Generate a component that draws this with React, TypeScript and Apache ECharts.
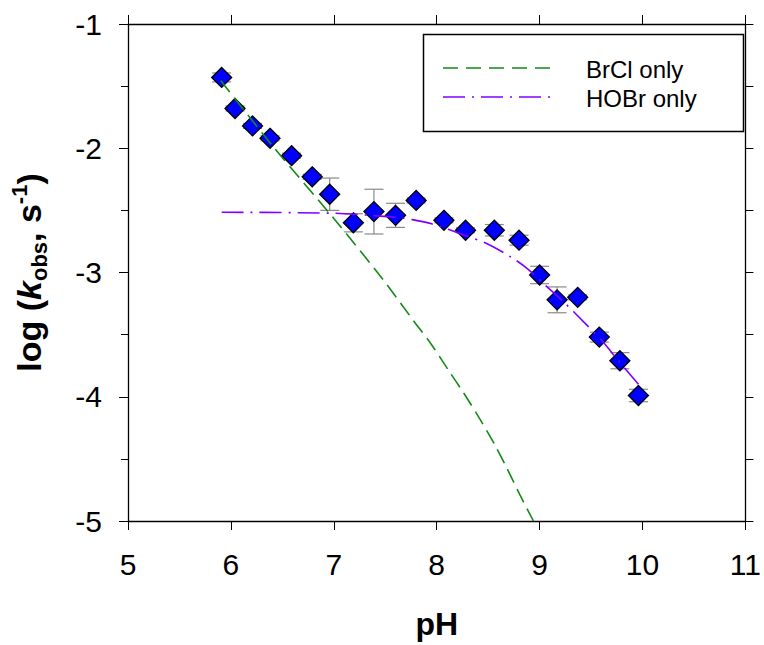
import React, { useEffect, useRef } from "react";
import * as echarts from "echarts";

// Measured data (pH, log kobs) with error half-widths
const phValues = [5.91, 6.04, 6.21, 6.38, 6.59, 6.79, 6.96, 7.19, 7.39, 7.6, 7.8, 8.07, 8.28, 8.56, 8.8, 9.0, 9.17, 9.37, 9.58, 9.78, 9.96];
const logK = [-1.43, -1.68, -1.82, -1.92, -2.06, -2.23, -2.37, -2.6, -2.51, -2.54, -2.42, -2.58, -2.66, -2.66, -2.74, -3.02, -3.22, -3.2, -3.52, -3.71, -3.99];
const logKErr = [0.036, 0.02, 0.02, 0.02, 0.02, 0.02, 0.13, 0.073, 0.18, 0.097, 0.02, 0.02, 0.02, 0.046, 0.04, 0.07, 0.104, 0.02, 0.04, 0.065, 0.05];

// Model curve "BrCl only"
const brclPH = [5.9, 6.42, 7.03, 7.47, 7.78, 7.95, 8.11, 8.27, 8.42, 8.56, 8.69, 8.81, 8.94];
const brclLogK = [-1.455, -1.996, -2.595, -3.048, -3.394, -3.581, -3.781, -3.98, -4.18, -4.38, -4.588, -4.792, -5.0];

// Model curve "HOBr only"
const hobrPH = [5.91, 7.0, 7.38, 7.6, 7.76, 7.95, 8.27, 8.49, 8.72, 8.88, 9.07, 9.23, 9.44, 9.61, 9.77, 9.96];
const hobrLogK = [-2.515, -2.523, -2.542, -2.555, -2.574, -2.608, -2.7, -2.768, -2.875, -2.968, -3.114, -3.234, -3.407, -3.554, -3.714, -3.9];

const seriesNames = ["BrCl only", "HOBr only"];
const xTicks = { min: 5, max: 11, interval: 1 };
const yTicks = { min: -5, max: -1, interval: 1 };

const FONT = 'Arial, "Liberation Sans", sans-serif';
const GREEN = "#138a13";
const PURPLE = "#8000ff";

export default function App() {
  const ref = useRef<HTMLDivElement>(null);
  useEffect(() => {
    if (!ref.current) return;
    const chart = echarts.init(ref.current, undefined, { renderer: "svg" });
    const axisLine = { show: true, lineStyle: { color: "#000", width: 1.3 } };
    const option: any = {
      animation: false,
      backgroundColor: "#fff",
      grid: { left: 122, right: 16, top: 24, bottom: 121, containLabel: false },
      xAxis: [
        {
          type: "value",
          position: "bottom",
          min: xTicks.min,
          max: xTicks.max,
          interval: xTicks.interval,
          axisLine,
          axisTick: { show: true, inside: false, length: 9, lineStyle: { color: "#000", width: 1 } },
          axisLabel: { show: true, margin: 28, fontFamily: FONT, fontSize: 30, color: "#000" },
          splitLine: { show: false },
          name: "pH",
          nameLocation: "middle",
          nameGap: 87,
          nameTextStyle: { fontFamily: FONT, fontSize: 32, fontWeight: "bold", color: "#000" },
        },
        {
          type: "value",
          position: "top",
          min: xTicks.min,
          max: xTicks.max,
          interval: xTicks.interval,
          axisLine,
          axisTick: { show: true, inside: false, length: 9, lineStyle: { color: "#000", width: 1 } },
          axisLabel: { show: false },
          splitLine: { show: false },
        },
      ],
      yAxis: [
        {
          type: "value",
          position: "left",
          min: yTicks.min,
          max: yTicks.max,
          interval: yTicks.interval,
          axisLine,
          axisTick: { show: true, inside: false, length: 9, lineStyle: { color: "#000", width: 1 } },
          minorTick: { show: true, splitNumber: 2, length: 7, lineStyle: { color: "#000", width: 1 } },
          axisLabel: { show: true, margin: 26, fontFamily: FONT, fontSize: 30, color: "#000" },
          splitLine: { show: false },
          minorSplitLine: { show: false },
          name: "{a|log (}{i|k}{sub|obs}{a|, s}{sup|-1}{a|)}",
          nameLocation: "middle",
          nameGap: 78,
          nameTextStyle: {
            fontFamily: FONT,
            fontSize: 34,
            fontWeight: "bold",
            color: "#000",
            rich: {
              a: { fontFamily: FONT, fontSize: 34, fontWeight: "bold", color: "#000", lineHeight: 42 },
              i: { fontFamily: FONT, fontSize: 34, fontWeight: "bold", fontStyle: "italic", color: "#000", lineHeight: 42 },
              sub: { fontFamily: FONT, fontSize: 22, fontWeight: "bold", color: "#000", verticalAlign: "bottom", lineHeight: 22 },
              sup: { fontFamily: FONT, fontSize: 22, fontWeight: "bold", color: "#000", verticalAlign: "top", lineHeight: 22 },
            },
          },
        },
        {
          type: "value",
          position: "right",
          min: yTicks.min,
          max: yTicks.max,
          interval: 0.5,
          axisLine,
          axisTick: { show: true, inside: false, length: 8, lineStyle: { color: "#000", width: 1 } },
          axisLabel: { show: false },
          splitLine: { show: false },
        },
      ],
      series: [
        {
          type: "custom",
          name: "error",
          xAxisIndex: 0,
          yAxisIndex: 0,
          z: 1,
          data: phValues.map((x, i) => [x, logK[i], logKErr[i]]),
          encode: { x: 0, y: 1 },
          renderItem: (_params: any, api: any) => {
            const x = api.value(0);
            const y = api.value(1);
            const e = api.value(2);
            const top = api.coord([x, y + e]);
            const bot = api.coord([x, y - e]);
            const w = 9.5;
            const st = { stroke: "#8a8a8a", lineWidth: 1.2 };
            return {
              type: "group",
              children: [
                { type: "line", shape: { x1: top[0], y1: top[1], x2: bot[0], y2: bot[1] }, style: st },
                { type: "line", shape: { x1: top[0] - w, y1: top[1], x2: top[0] + w, y2: top[1] }, style: st },
                { type: "line", shape: { x1: bot[0] - w, y1: bot[1], x2: bot[0] + w, y2: bot[1] }, style: st },
              ],
            };
          },
        },
        {
          type: "scatter",
          name: "data",
          z: 2,
          symbol: "diamond",
          symbolSize: 20,
          itemStyle: { color: "#0000ff", borderColor: "#000", borderWidth: 1.3, opacity: 1 },
          data: phValues.map((x, i) => [x, logK[i]]),
        },
        {
          type: "line",
          name: seriesNames[0],
          z: 3,
          showSymbol: false,
          symbol: "none",
          smooth: 0.3,
          lineStyle: { color: GREEN, width: 1.6, type: [15, 7] },
          data: brclPH.map((x, i) => [x, brclLogK[i]]),
        },
        {
          type: "line",
          name: seriesNames[1],
          z: 3,
          showSymbol: false,
          symbol: "none",
          smooth: 0.3,
          lineStyle: { color: PURPLE, width: 1.6, type: [22, 7, 2, 7] },
          data: hobrPH.map((x, i) => [x, hobrLogK[i]]),
        },
      ],
      graphic: [
        {
          type: "rect",
          z: 10,
          shape: { x: 423.5, y: 34.5, width: 320, height: 97 },
          style: { fill: "#fff", stroke: "#000", lineWidth: 1.5 },
        },
        {
          type: "line",
          z: 11,
          shape: { x1: 443, y1: 68, x2: 557, y2: 68 },
          style: { stroke: GREEN, lineWidth: 1.6, lineDash: [15, 8] },
        },
        {
          type: "line",
          z: 11,
          shape: { x1: 443, y1: 97, x2: 557, y2: 97 },
          style: { stroke: PURPLE, lineWidth: 1.6, lineDash: [22, 7, 2, 7] },
        },
        {
          type: "text",
          z: 11,
          x: 586,
          y: 69,
          style: { text: seriesNames[0], font: `24px ${FONT}`, fill: "#000", verticalAlign: "middle", align: "left" },
        },
        {
          type: "text",
          z: 11,
          x: 586,
          y: 98,
          style: { text: seriesNames[1], font: `24px ${FONT}`, fill: "#000", verticalAlign: "middle", align: "left" },
        },
      ],
    };
    chart.setOption(option);
    return () => chart.dispose();
  }, []);
  return <div ref={ref} style={{ position: "absolute", left: 0, top: 0, width: 764, height: 645 }} />;
}
